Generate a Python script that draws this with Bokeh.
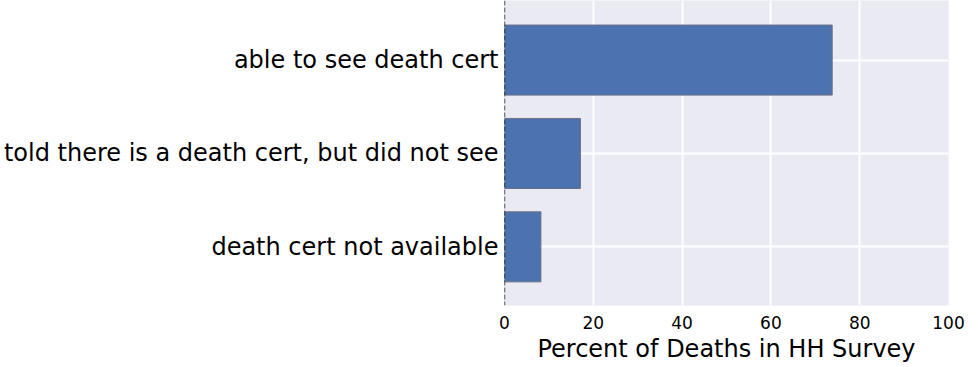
from bokeh.plotting import figure
from bokeh.models import Range1d, FixedTicker, Span, ColumnDataSource
from bokeh.embed import file_html
from bokeh.resources import INLINE

categories = ["able to see death cert",
              "told there is a death cert, but did not see",
              "death cert not available"]
percents = [73.8, 17.1, 8.2]
x_ticks = [0, 20, 40, 60, 80, 100]
x_label = "Percent of Deaths in HH Survey"

positions = list(range(len(categories)))
src = ColumnDataSource(dict(y=positions, right=percents))

p = figure(width=975, height=365, output_backend="svg", toolbar_location=None,
           x_range=Range1d(0, 100), y_range=Range1d(2.628, -0.638),
           min_border_left=502, min_border_right=27, min_border_top=0,
           min_border_bottom=58)
p.background_fill_color = "#EAEAF2"
p.border_fill_color = "white"
p.outline_line_color = None

p.hbar(y="y", left=0, right="right", height=0.75, source=src,
       fill_color="#4C72B0", line_color="#6b7185", line_width=1)

p.add_layout(Span(location=0, dimension="height", line_color="black",
                  line_width=1.3, line_dash="5 2"))

p.xaxis.ticker = FixedTicker(ticks=x_ticks)
p.yaxis.ticker = FixedTicker(ticks=positions)
p.yaxis.major_label_overrides = {i: c for i, c in zip(positions, categories)}
p.xaxis.axis_label = x_label

for ax in (p.xaxis[0], p.yaxis[0]):
    ax.axis_line_color = None
    ax.major_tick_line_color = None
    ax.minor_tick_line_color = None
    ax.major_tick_out = 0
    ax.major_tick_in = 0
    ax.major_label_text_font = "DejaVu Sans"
    ax.major_label_text_color = "black"

p.yaxis.major_label_text_font_size = "24px"
p.yaxis.major_label_standoff = 6
p.xaxis.major_label_text_font_size = "17px"
p.xaxis.major_label_standoff = 10
p.xaxis.axis_label_text_font = "DejaVu Sans"
p.xaxis.axis_label_text_font_size = "24px"
p.xaxis.axis_label_text_font_style = "normal"
p.xaxis.axis_label_text_color = "black"
p.xaxis.axis_label_standoff = 3

p.xgrid.ticker = FixedTicker(ticks=x_ticks)
p.ygrid.ticker = FixedTicker(ticks=positions)
p.grid.grid_line_color = "white"
p.grid.grid_line_width = 2
p.grid.level = "underlay"

open("out.html", "w").write(file_html(p, INLINE))
